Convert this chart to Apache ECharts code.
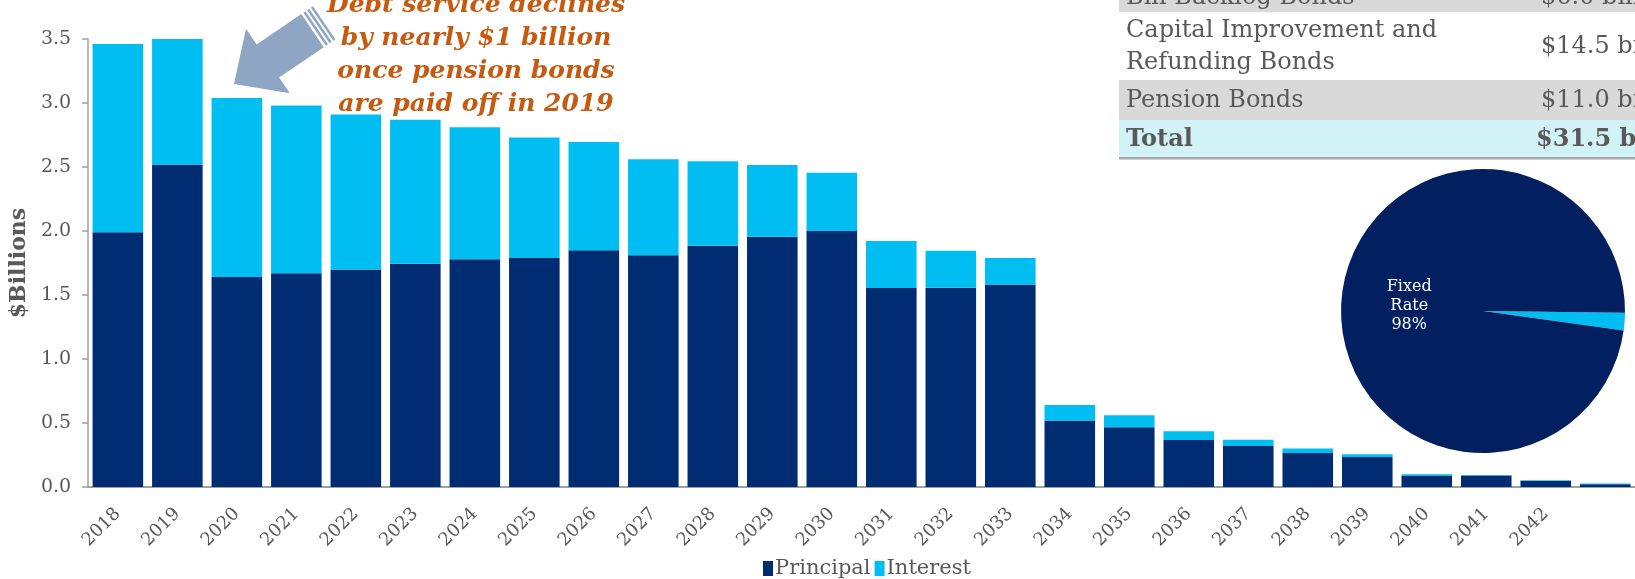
<!DOCTYPE html>
<html>
<head>
<meta charset="utf-8">
<title>Debt Service Schedule</title>
<script src="https://cdn.jsdelivr.net/npm/echarts@6/dist/echarts.min.js"></script>
<style>
  html, body { margin: 0; padding: 0; background: #ffffff; }
  #chart { width: 1635px; height: 579px; }
</style>
</head>
<body>
<div id="chart"></div>
<script>
// Fiscal years of scheduled debt service (last column is unlabeled)
const years = ['2018', '2019', '2020', '2021', '2022', '2023', '2024', '2025', '2026',
  '2027', '2028', '2029', '2030', '2031', '2032', '2033', '2034', '2035', '2036',
  '2037', '2038', '2039', '2040', '2041', '2042', ''];

// Principal payments, $ billions
const principal = [1.99, 2.52, 1.64, 1.67, 1.70, 1.745, 1.78, 1.79, 1.85, 1.81, 1.885,
  1.955, 2.00, 1.555, 1.557, 1.583, 0.519, 0.466, 0.367, 0.320, 0.266, 0.234, 0.086,
  0.089, 0.049, 0.021];

// Interest payments, $ billions
const interest = [1.47, 0.98, 1.40, 1.31, 1.21, 1.125, 1.03, 0.94, 0.845, 0.75, 0.66,
  0.56, 0.455, 0.367, 0.289, 0.206, 0.122, 0.094, 0.068, 0.050, 0.034, 0.021, 0.013,
  0.004, 0.003, 0.006];

// Y-axis ticks
const yTicks = { min: 0, max: 3.5, interval: 0.5 };

// Outstanding debt by type
const debtTypes = ['Bill Backlog Bonds', 'Capital Improvement and\nRefunding Bonds', 'Pension Bonds'];
const debtAmounts = ['$6.0 billion', '$14.5 billion', '$11.0 billion'];
const debtTotal = ['Total', '$31.5 billion'];

// Fixed vs variable rate share
const rateMix = [
  { name: 'Variable Rate', value: 2 },
  { name: 'Fixed Rate', value: 98 }
];

const annotation = 'Debt service declines\nby nearly $1 billion\nonce pension bonds\nare paid off in 2019';

const FONT = '"DejaVu Serif", "Liberation Serif", serif';
const NAVY = '#002D72';
const CYAN = '#00BEF2';
const GREY_TEXT = '#595959';

// Block arrow pointing down-left toward the 2020 bar
function arrowGraphics() {
  const tip = [234, 84];
  const ux = 0.827, uy = -0.562;   // tip -> tail
  const nx = 0.562, ny = 0.827;    // perpendicular
  const p = (a, c) => [tip[0] + a * ux + c * nx, tip[1] + a * uy + c * ny];
  const color = '#8FA5C4';
  const body = [p(0, 0), p(41, -39), p(41, -20), p(95, -20), p(95, 20), p(41, 20), p(41, 39)];
  const items = [{
    type: 'polygon', shape: { points: body }, style: { fill: color }, z: 10
  }];
  [[97.5, 100], [102, 104.5], [106.5, 109]].forEach(([a0, a1]) => {
    items.push({
      type: 'polygon',
      shape: { points: [p(a0, -20), p(a1, -20), p(a1, 20), p(a0, 20)] },
      style: { fill: color }, z: 10
    });
  });
  return items;
}

// Debt summary table in the upper right
function tableGraphics() {
  const x0 = 1119, xAmt = 1541;
  const items = [];
  const rows = [
    { y0: -40, y1: 12.5, fill: '#D9D9D9' },
    { y0: 12.5, y1: 80, fill: '#FFFFFF' },
    { y0: 80, y1: 120, fill: '#D9D9D9' },
    { y0: 120, y1: 157, fill: '#D2F3F6' }
  ];
  rows.forEach(r => items.push({
    type: 'rect', shape: { x: x0, y: r.y0, width: 1635 - x0 + 20, height: r.y1 - r.y0 },
    style: { fill: r.fill }, z: 5
  }));
  items.push({
    type: 'rect', shape: { x: x0, y: 157, width: 1635 - x0 + 20, height: 2.5 },
    style: { fill: '#A6A6A6' }, z: 5
  });
  const rowCenters = [-2, 47, 101, 140];
  debtTypes.forEach((t, i) => {
    items.push({
      type: 'text', x: x0 + 7, y: rowCenters[i], z: 6,
      style: { text: t, fill: GREY_TEXT, font: '24px ' + FONT, align: 'left',
        verticalAlign: 'middle', lineHeight: 31.5 }
    });
    items.push({
      type: 'text', x: xAmt, y: rowCenters[i], z: 6,
      style: { text: debtAmounts[i], fill: GREY_TEXT, font: '24px ' + FONT, align: 'left',
        verticalAlign: 'middle' }
    });
  });
  items.push({
    type: 'text', x: x0 + 7, y: rowCenters[3], z: 6,
    style: { text: debtTotal[0], fill: GREY_TEXT, font: 'bold 24px ' + FONT,
      align: 'left', verticalAlign: 'middle' }
  });
  items.push({
    type: 'text', x: 1536, y: rowCenters[3], z: 6,
    style: { text: debtTotal[1], fill: GREY_TEXT, font: 'bold 24px ' + FONT,
      align: 'left', verticalAlign: 'middle' }
  });
  return items;
}

const chart = echarts.init(document.getElementById('chart'), null, { renderer: 'canvas' });

chart.setOption({
  animation: false,
  backgroundColor: '#ffffff',
  grid: { left: 88, top: 39, width: 1552, height: 448, containLabel: false },
  legend: {
    left: 758, top: 553,
    itemWidth: 10, itemHeight: 15, itemGap: 4,
    icon: 'rect',
    textStyle: { fontFamily: FONT, fontSize: 21, color: GREY_TEXT, padding: [0, 0, 0, -3] },
    data: ['Principal', 'Interest']
  },
  xAxis: {
    type: 'category',
    data: years,
    axisLine: { lineStyle: { color: '#A0A0A0', width: 2 } },
    axisTick: { show: false },
    axisLabel: {
      rotate: 45, margin: 24, interval: 0,
      fontFamily: FONT, fontSize: 18, color: GREY_TEXT
    }
  },
  yAxis: {
    type: 'value',
    min: yTicks.min, max: yTicks.max, interval: yTicks.interval,
    name: '$Billions',
    nameLocation: 'middle',
    nameGap: 58,
    nameTextStyle: { fontFamily: FONT, fontSize: 22, fontWeight: 'bold', color: GREY_TEXT },
    splitLine: { show: false },
    axisLine: { show: true, lineStyle: { color: '#A0A0A0', width: 1.5 } },
    axisTick: { show: true, length: 6, lineStyle: { color: '#A0A0A0', width: 1.5 } },
    axisLabel: {
      margin: 17, fontFamily: FONT, fontSize: 19, color: GREY_TEXT,
      formatter: v => v.toFixed(1)
    }
  },
  series: [
    {
      name: 'Principal', type: 'bar', stack: 'debt', data: principal,
      barCategoryGap: '15%',
      itemStyle: { color: NAVY }
    },
    {
      name: 'Interest', type: 'bar', stack: 'debt', data: interest,
      barCategoryGap: '15%',
      itemStyle: { color: CYAN }
    },
    {
      name: 'Rate Mix', type: 'pie',
      center: [1483, 311], radius: 142,
      startAngle: -0.7, clockwise: true,
      data: rateMix,
      z: 8,
      color: [CYAN, '#021F5F'],
      itemStyle: { borderWidth: 0 },
      emphasis: { disabled: true },
      labelLine: { show: false },
      label: {
        show: true, position: 'inside',
        fontFamily: FONT, fontSize: 16, lineHeight: 19, color: '#ffffff',
        formatter: p => p.name === 'Fixed Rate'
          ? 'Fixed\nRate\n' + Math.round(p.percent) + '%' : ''
      }
    }
  ],
  graphic: [
    ...tableGraphics(),
    ...arrowGraphics(),
    {
      type: 'text', x: 476, y: 55, z: 10,
      style: {
        text: annotation, fill: '#C55A11',
        font: 'italic bold 25px ' + FONT,
        align: 'center', verticalAlign: 'middle', lineHeight: 32.7
      }
    }
  ]
});
</script>
</body>
</html>
